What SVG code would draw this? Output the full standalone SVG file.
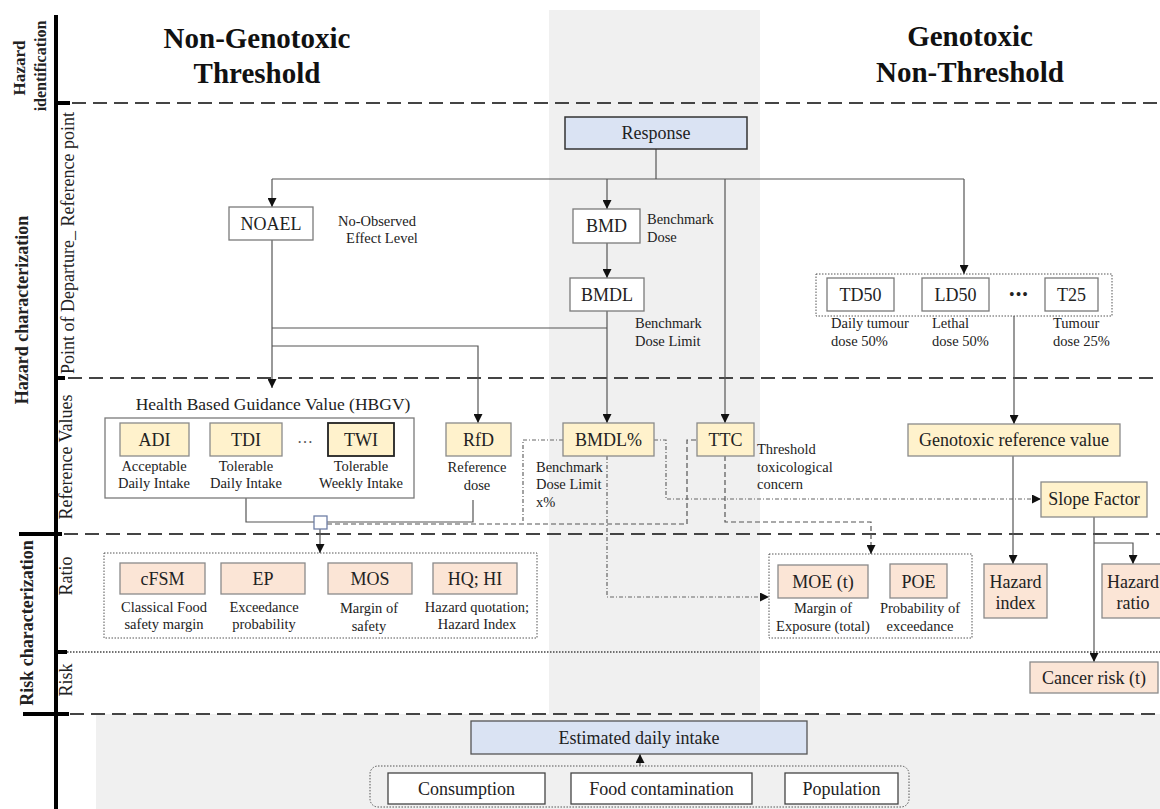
<svg xmlns="http://www.w3.org/2000/svg" width="1160" height="809" viewBox="0 0 1160 809">
<style>
.t{font-family:"Liberation Serif","Times New Roman",serif;font-size:18px;fill:#222;text-anchor:middle}
.s{font-size:14.5px}
.l{text-anchor:start}
.bd{font-weight:bold}
.ttl{font-size:29px;fill:#111}
.ln{stroke:#555;stroke-width:1.2;fill:none}
.dd{stroke:#666;stroke-width:1.2;fill:none;stroke-dasharray:4 2 1 2}
.ds{stroke:#555;stroke-width:1.2;fill:none;stroke-dasharray:5 3}
.box{fill:#fff;stroke:#7a7a7a;stroke-width:1.3}
.y{fill:#fff2cc;stroke:#8a8a8a;stroke-width:1.3}
.p{fill:#fbe5d6;stroke:#8a8a8a;stroke-width:1.3}
.b{fill:#dae3f3;stroke:#333;stroke-width:1.5}
.grp{fill:none;stroke:#555;stroke-width:1;stroke-dasharray:1.5 1.5}
.sep{stroke:#444;stroke-width:2;stroke-dasharray:14 7}
.ax{stroke:#000;stroke-width:4}
</style>
<defs>
<marker id="ah" markerUnits="userSpaceOnUse" markerWidth="9" markerHeight="9" refX="9" refY="4.5" orient="auto"><path d="M0,0 L9,4.5 L0,9 z" fill="#111"/></marker>
</defs>
<rect width="1160" height="809" fill="#fff"/>
<rect x="549" y="10" width="211" height="704" fill="#f0f0f0"/>
<rect x="96" y="714" width="1064" height="95" fill="#f0f0f0"/>

<g id="axes">
<line class="ax" x1="56" y1="15" x2="56" y2="809"/>
<line class="ax" x1="54" y1="103" x2="70" y2="103"/>
<line class="ax" x1="54" y1="378" x2="65" y2="378"/>
<line class="ax" x1="19" y1="534" x2="62" y2="534"/>
<line class="ax" x1="54" y1="652" x2="67" y2="652"/>
<line class="ax" x1="23" y1="714" x2="69" y2="714"/>
<line class="sep" x1="72" y1="103" x2="1160" y2="103"/>
<line class="sep" x1="68" y1="378" x2="1160" y2="378"/>
<line class="sep" x1="64" y1="534" x2="1160" y2="534"/>
<line x1="67" y1="652" x2="1160" y2="652" stroke="#444" stroke-width="1.5" stroke-dasharray="1.5 1.5"/>
<line class="sep" x1="70" y1="714" x2="1160" y2="714"/>
<text class="t bd" style="font-size:17px" transform="translate(25,68) rotate(-90)">Hazard</text>
<text class="t bd" style="font-size:16px" transform="translate(46,66) rotate(-90)">identification</text>
<text class="t bd" transform="translate(28,310) rotate(-90)">Hazard characterization</text>
<text class="t bd" transform="translate(33,623) rotate(-90)">Risk characterization</text>
<text class="t" transform="translate(74,243) rotate(-90)">Point of Departure_ Reference point</text>
<text class="t" transform="translate(72,457) rotate(-90)">Reference Values</text>
<text class="t" transform="translate(72,576) rotate(-90)">Ratio</text>
<text class="t" transform="translate(72,680) rotate(-90)">Risk</text>
</g>

<g id="titles">
<text class="t bd ttl" x="257" y="48">Non-Genotoxic</text>
<text class="t bd ttl" x="257" y="83">Threshold</text>
<text class="t bd ttl" x="970" y="46">Genotoxic</text>
<text class="t bd ttl" x="970" y="82">Non-Threshold</text>
</g>

<g id="connectors">
<path class="ln" d="M656,149 V179"/>
<path class="ln" d="M272,179 H964"/>
<path class="ln" d="M272,179 V207" marker-end="url(#ah)"/>
<path class="ln" d="M607,179 V209" marker-end="url(#ah)"/>
<path class="ln" d="M964,179 V274" marker-end="url(#ah)"/>
<path class="ln" d="M725,179 V423" marker-end="url(#ah)"/>
<path class="ln" d="M607,243 V278" marker-end="url(#ah)"/>
<path class="ln" d="M607,311 V423" marker-end="url(#ah)"/>
<path class="ln" d="M272,240 V388" marker-end="url(#ah)"/>
<path class="ln" d="M272,328 H607"/>
<path class="ln" d="M272,346 H478 V423" marker-end="url(#ah)"/>
<path class="ln" d="M246,498 V522 H314"/>
<path class="ln" d="M473,500 V522 H327"/>
<path class="ln" d="M320,529 V553" marker-end="url(#ah)"/>
<path class="ds" d="M327,524 H687 V440 H697"/>
<path class="dd" d="M563,440 H523 V523"/>
<path class="dd" d="M654,440 H666 V499 H1041" marker-end="url(#ah)"/>
<path class="dd" d="M607,456 V597 H769" marker-end="url(#ah)"/>
<path class="ds" d="M725,456 V522 H871 V554" marker-end="url(#ah)"/>
<path class="ln" d="M1014,316 V424" marker-end="url(#ah)"/>
<path class="ln" d="M1013,456 V564" marker-end="url(#ah)"/>
<path class="ln" d="M1094,517 V662" marker-end="url(#ah)"/>
<path class="ln" d="M1094,543 H1133 V564" marker-end="url(#ah)"/>
<path class="ln" d="M640,766 V754" marker-end="url(#ah)"/>
</g>

<g id="response"><rect class="b" x="565" y="117" width="182" height="32"/><text class="t" x="656" y="139">Response</text></g>

<g id="noael"><rect class="box" x="229" y="207" width="84" height="33"/><text class="t" x="271" y="230">NOAEL</text>
<text class="t s" x="377" y="226">No-Observed</text><text class="t s" x="382" y="243">Effect Level</text></g>

<g id="bmd"><rect class="box" x="573" y="209" width="67" height="34"/><text class="t" x="606.5" y="232">BMD</text>
<text class="t s l" x="647" y="224">Benchmark</text><text class="t s l" x="647" y="242">Dose</text></g>

<g id="bmdl"><rect class="box" x="570" y="278" width="74" height="33"/><text class="t" x="607" y="301">BMDL</text>
<text class="t s l" x="635" y="328">Benchmark</text><text class="t s l" x="635" y="346">Dose Limit</text></g>

<g id="pod-genotoxic">
<rect class="grp" x="816" y="274" width="296" height="42"/>
<rect class="box" x="827" y="278" width="67" height="33"/><text class="t" x="860.5" y="301">TD50</text>
<rect class="box" x="922" y="278" width="67" height="33"/><text class="t" x="955.5" y="301">LD50</text>
<text class="t" style="font-size:16px;letter-spacing:1px" x="1019" y="300">•••</text>
<rect class="box" x="1045" y="278" width="53" height="33"/><text class="t" x="1071.5" y="301">T25</text>
<text class="t s l" x="831" y="328">Daily tumour</text><text class="t s l" x="831" y="346">dose 50%</text>
<text class="t s l" x="932" y="328">Lethal</text><text class="t s l" x="932" y="346">dose 50%</text>
<text class="t s l" x="1053" y="328">Tumour</text><text class="t s l" x="1053" y="346">dose 25%</text>
</g>

<g id="hbgv">
<text class="t" style="font-size:17.5px" x="273" y="410">Health Based Guidance Value (HBGV)</text>
<rect class="box" x="105" y="418" width="309" height="80"/>
<rect class="y" x="120" y="423" width="69" height="33"/><text class="t" x="154.5" y="446">ADI</text>
<rect class="y" x="210" y="423" width="72" height="33"/><text class="t" x="246" y="446">TDI</text>
<text class="t" style="font-size:16px;fill:#555" x="305" y="443">…</text>
<rect x="328" y="423" width="66" height="33" fill="#fff2cc" stroke="#222" stroke-width="1.8"/><text class="t" x="361" y="446">TWI</text>
<text class="t s" x="154" y="471">Acceptable</text><text class="t s" x="154" y="488">Daily Intake</text>
<text class="t s" x="246" y="471">Tolerable</text><text class="t s" x="246" y="488">Daily Intake</text>
<text class="t s" x="361" y="471">Tolerable</text><text class="t s" x="361" y="488">Weekly Intake</text>
</g>

<g id="rfd"><rect class="y" x="446" y="423" width="65" height="33"/><text class="t" x="478.5" y="446">RfD</text>
<text class="t s" x="477" y="472">Reference</text><text class="t s" x="477" y="490">dose</text></g>

<g id="junction"><rect x="314" y="516" width="13" height="13" fill="#fff" stroke="#6f7fa6" stroke-width="1.3"/></g>

<g id="bmdlpct"><rect class="y" x="563" y="423" width="91" height="33"/><text class="t" x="608.5" y="446">BMDL%</text>
<text class="t s l" x="536" y="472">Benchmark</text><text class="t s l" x="536" y="489">Dose Limit</text><text class="t s l" x="536" y="507">x%</text></g>

<g id="ttc"><rect class="y" x="697" y="423" width="57" height="33"/><text class="t" x="725.5" y="446">TTC</text>
<text class="t s l" x="757" y="454">Threshold</text><text class="t s l" x="757" y="472">toxicological</text><text class="t s l" x="757" y="489">concern</text></g>

<g id="genotoxic-ref"><rect class="y" x="908" y="424" width="212" height="32"/><text class="t" x="1014" y="446">Genotoxic reference value</text></g>

<g id="slope-factor"><rect class="y" x="1041" y="482" width="106" height="35"/><text class="t" x="1094" y="505">Slope Factor</text></g>

<g id="ratio-group">
<rect class="grp" x="104" y="553" width="433" height="85"/>
<rect class="p" x="120" y="563" width="85" height="31"/><text class="t" x="162.5" y="585">cFSM</text>
<rect class="p" x="221" y="563" width="84" height="31"/><text class="t" x="263" y="585">EP</text>
<rect class="p" x="328" y="563" width="84" height="31"/><text class="t" x="370" y="585">MOS</text>
<rect class="p" x="433" y="563" width="84" height="31"/><text class="t" x="475" y="585">HQ; HI</text>
<text class="t s" x="164" y="612">Classical Food</text><text class="t s" x="164" y="629">safety margin</text>
<text class="t s" x="264" y="612">Exceedance</text><text class="t s" x="264" y="629">probability</text>
<text class="t s" x="369" y="613">Margin of</text><text class="t s" x="369" y="631">safety</text>
<text class="t s" x="477" y="612">Hazard quotation;</text><text class="t s" x="477" y="629">Hazard Index</text>
</g>

<g id="moe-group">
<rect class="grp" x="769" y="554" width="203" height="84"/>
<rect class="p" x="778" y="565" width="90" height="33"/><text class="t" x="823" y="588">MOE (t)</text>
<rect class="p" x="890" y="564" width="57" height="34"/><text class="t" x="918.5" y="588">POE</text>
<text class="t s" x="823" y="613">Margin of</text><text class="t s" x="823" y="631">Exposure (total)</text>
<text class="t s" x="920" y="613">Probability of</text><text class="t s" x="920" y="631">exceedance</text>
</g>

<g id="hazard-index"><rect class="p" x="984" y="564" width="63" height="54"/><text class="t" x="1015.5" y="588">Hazard</text><text class="t" x="1015.5" y="609">index</text></g>
<g id="hazard-ratio"><rect class="p" x="1102" y="564" width="64" height="54"/><text class="t" x="1133" y="588">Hazard</text><text class="t" x="1133" y="609">ratio</text></g>
<g id="cancer-risk"><rect class="p" x="1030" y="662" width="128" height="31"/><text class="t" x="1094" y="684">Cancer risk (t)</text></g>

<g id="edi"><rect class="b" x="471" y="721" width="336" height="33" style="stroke:#555;stroke-width:1.3"/><text class="t" x="639" y="744">Estimated daily intake</text></g>

<g id="exposure-inputs">
<rect class="grp" x="370" y="766" width="539" height="41" rx="8"/>
<rect class="box" x="388" y="773" width="157" height="31" style="stroke:#444"/><text class="t" x="466.5" y="795">Consumption</text>
<rect class="box" x="571" y="773" width="181" height="31" style="stroke:#444"/><text class="t" x="661.5" y="795">Food contamination</text>
<rect class="box" x="785" y="773" width="113" height="31" style="stroke:#444"/><text class="t" x="841.5" y="795">Population</text>
</g>
</svg>
